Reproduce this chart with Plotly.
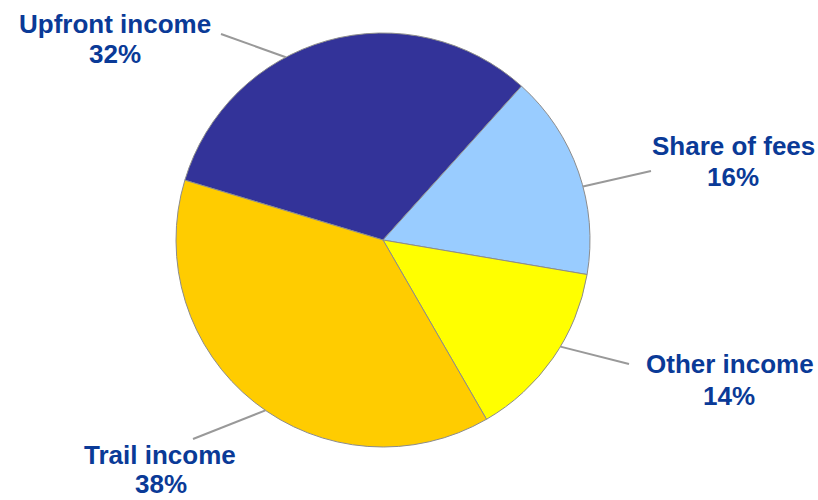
import math
import plotly.graph_objects as go

# Income breakdown (percent of total)
categories = ["Upfront income", "Share of fees", "Other income", "Trail income"]
shares = [32, 16, 14, 38]
slice_colors = ["#333399", "#99CCFF", "#FFFF00", "#FFCC00"]

W, H = 818, 500
CX, CY, R = 383, 240, 207          # pie centre and radius in pixels
BOUNDARY_ANGLE = 42                # clockwise from 12 o'clock, where "Share of fees" begins

# first slice ("Upfront income") starts so that the next slice begins at BOUNDARY_ANGLE
rotation = BOUNDARY_ANGLE - shares[0] / sum(shares) * 360

# label placement: name line centre, percent line centre, leader start angle, leader end point
label_layout = {
    "Upfront income": dict(name=(115, 24), pct=(115, 54), lead_angle=332, lead_end=(221, 34)),
    "Share of fees": dict(name=(733, 146), pct=(733, 177), lead_angle=75, lead_end=(651, 171)),
    "Other income": dict(name=(730, 364), pct=(729, 396), lead_angle=121, lead_end=(629, 364)),
    "Trail income": dict(name=(160, 455), pct=(161, 484), lead_angle=214.6, lead_end=(193, 439)),
}


def px(x):
    return x / W


def py(y):
    return 1 - y / H


fig = go.Figure(
    go.Pie(
        labels=categories,
        values=shares,
        sort=False,
        direction="clockwise",
        rotation=rotation,
        marker=dict(colors=slice_colors, line=dict(color="#8c8c8c", width=1)),
        textinfo="none",
        hoverinfo="label+percent",
        domain=dict(x=[px(CX - R), px(CX + R)], y=[py(CY + R), py(CY - R)]),
        showlegend=False,
    )
)

label_font = dict(family="Liberation Sans, Arial, sans-serif", size=26, color="#0a3a97")
annotations = []
shapes = []
total = sum(shares)
for cat, val in zip(categories, shares):
    lay = label_layout[cat]
    annotations.append(dict(
        x=px(lay["name"][0]), y=py(lay["name"][1]), xref="paper", yref="paper",
        text=f"<b>{cat}</b>", showarrow=False, xanchor="center", yanchor="middle",
        font=label_font, borderpad=0,
    ))
    annotations.append(dict(
        x=px(lay["pct"][0]), y=py(lay["pct"][1]), xref="paper", yref="paper",
        text=f"<b>{round(val / total * 100)}%</b>", showarrow=False,
        xanchor="center", yanchor="middle", font=label_font, borderpad=0,
    ))
    a = math.radians(lay["lead_angle"])
    sx, sy = CX + R * math.sin(a), CY - R * math.cos(a)
    ex, ey = lay["lead_end"]
    shapes.append(dict(
        type="line", xref="paper", yref="paper",
        x0=px(sx), y0=py(sy), x1=px(ex), y1=py(ey),
        line=dict(color="#999999", width=2),
    ))

fig.update_layout(
    width=W, height=H,
    margin=dict(l=0, r=0, t=0, b=0),
    paper_bgcolor="white",
    plot_bgcolor="white",
    annotations=annotations,
    shapes=shapes,
)

fig.write_html("out.html")
